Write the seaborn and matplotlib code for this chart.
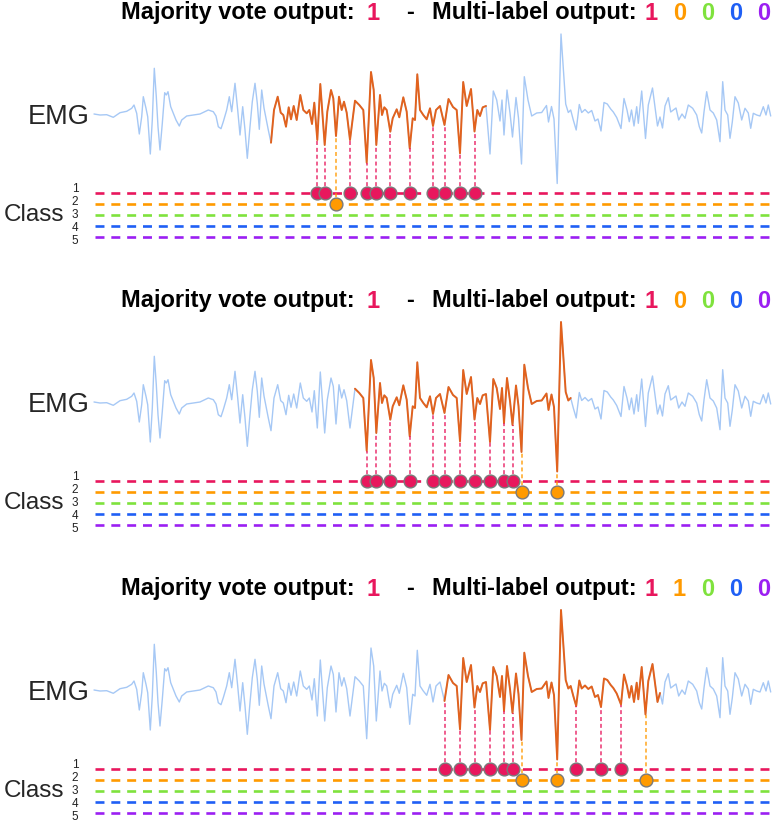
import numpy as np
import pandas as pd
import matplotlib
matplotlib.use("Agg")
import matplotlib.pyplot as plt
import seaborn as sns

# EMG trace (time in samples, amplitude in arbitrary units)
emg_t = [94, 100, 106.7, 113.3, 120, 126.7, 131.7, 134, 136.7, 139.3, 141.7, 143.3, 146, 147.7,
         150.3, 152.3, 154.3, 156.3, 158, 160, 162.3, 164.7, 166.3, 168, 170.7, 173.3, 176, 179.3,
         181.7, 186.7, 193.3, 200, 208.3, 213.3, 216, 218.3, 221, 223.3, 226.7, 229.3, 231.7, 235,
         237.7, 240, 242.7, 245, 247.3, 250, 252.3, 255, 257.3, 259.3, 261.7, 264, 268.3, 271,
         274, 277.7, 280.7, 283.3, 286, 288.7, 291, 293.7, 296.7, 300.3, 303.3, 306.7, 309.3, 312,
         314.3, 317.3, 320.3, 324.7, 327.3, 331, 333.3, 336, 339, 341.7, 344, 346.7, 350, 355,
         359.3, 363.3, 366.7, 371, 373.7, 376.3, 380, 382, 384.3, 386.7, 390.3, 392.7, 396.7, 399.3,
         403.3, 406.7, 409.7, 412.7, 415, 417.3, 420, 423.3, 426.7, 430, 433, 436, 440, 444.5,
         448.5, 453, 456.7, 460, 463.2, 466.7, 471, 474.5, 477.3, 480, 482.7, 486, 490, 493.3,
         496.7, 500, 502, 504, 507, 510, 512.5, 516, 518.5, 521.5, 524.3, 528, 531.7, 536.7,
         541.7, 546.5, 548.5, 551.5, 554, 557.2, 561, 563.3, 565.7, 568.3, 570.7, 573.3, 576.2, 579.3,
         581.7, 585, 588.3, 591.7, 595, 598, 601, 604, 607.3, 610.7, 613.3, 616.7, 621, 624,
         627, 629.3, 631.5, 634, 636.7, 638.3, 641.7, 645.5, 648.3, 652.5, 655, 657.5, 660, 662.5,
         665, 668.3, 670.7, 673.3, 676, 678.7, 682, 685, 688.3, 692.7, 696.7, 699.3, 701.7, 704,
         706.7, 710, 713.3, 716.7, 720, 722.7, 725, 727.7, 730, 732.3, 735, 738.3, 741.7, 745,
         748.3, 750.7, 753.3, 756.7, 760, 763.3, 766, 768.3, 770.7]
emg_amp = [1, 0, 0.3, -2.3, 2.3, 3.7, 6.7, 10, 1.7, -19, -1.7, 18.3, 6.7, -1.7,
           -39, -5, 46.7, 18.3, -11.7, -35, -8.3, 22.3, 20, 23.3, 8.3, 1.7, -5, -11,
           -5, -1, 0, 1, 5, 3.3, -1, -11.7, -13.7, -6.7, 5, 18.3, 3.3, 31.7,
           5, -20, 8.3, -15, -43.3, -11.7, 13.3, 31.7, 11.7, -14.3, 25, 7, -15, -27.7,
           5, 18.3, 2.3, 0, -11.7, 7.7, -4.3, 9, -5, 20, 5, 1.7, 5, -9,
           12.3, -25, 31, -30, 3.3, 25, 16.7, -21, 18.3, 5, 13.3, 2.3, -25, 14.3,
           10, 5, -47.7, 43, 25, -30, 20, 0, 7.7, 5, -16.7, -3.3, 5.7, -2.3,
           17.7, 3.3, -33.3, -3.3, -5, 40.7, 5, 0, -4.3, 6.7, -11, 5, 9, -10,
           16, 8, 5, -38.3, 33, 9, 26, -16.5, 5, -1, 7.7, 9, -39, 24,
           15, -6, 15, -20, 25, 2, -22, 17.5, -3, -49, 38.3, 15, -1, 2,
           2.5, 9.5, -7, 8.5, -4, -68.5, 81, 47, 11, 2.5, 5, -5, -15, 10.5,
           2.5, 5.5, 2, 4.5, -6, -4, -16, 12.5, 11, 6, 3, -2.5, -13.5, 16.5,
           5, -6.7, 5, -11, 8.3, -8.3, 24, -23.5, 10, 27, 8, -11, -2, -13,
           9, 17.3, 3, 5, 7, -5, 1, -3.3, 10, 6.7, 0, -11.7, -18, 3,
           23.3, 5, 2, -5, -26.7, 33.3, 5, 0, -23.3, -7, 18.3, 12, -5, 6.7,
           2, -13.3, 1.7, 0, -1, 8.3, 0, 10, -1]

class_labels = ["1", "2", "3", "4", "5"]
class_colors = ["#e8175d", "#ff9a00", "#7fe23d", "#1f5ff5", "#9b1ff2"]

majority_vote = [1, 1, 1]
multi_label = [[1, 0, 0, 0, 0], [1, 0, 0, 0, 0], [1, 1, 0, 0, 0]]

window_start = [271, 355, 443]
window_len = 218

events_class1 = [[317.3, 324.7, 350, 366.7, 376.3, 390.3, 409.7, 433, 444.5, 460, 474.5],
                 [366.7, 376.3, 390.3, 409.7, 433, 444.5, 460, 474.5, 490, 504, 512.5],
                 [444.5, 460, 474.5, 490, 504, 512.5, 576.2, 601, 621]]
events_class2 = [[336], [521.5, 557.2], [521.5, 557.2, 645.5]]

sns.set_style("white")
plt.rcParams["font.family"] = ["Liberation Sans", "DejaVu Sans"]

W, H = 774, 824
fig = plt.figure(figsize=(W / 100, H / 100), dpi=100)

sig = pd.DataFrame({"t": emg_t, "amp": emg_amp})
t_arr = sig["t"].to_numpy()
a_arr = sig["amp"].to_numpy()

title_kw = dict(fontweight="bold", fontsize=17, va="center")
# left edge (px) of each title piece
title_x = [121, 366, 406, 432, 645, 673, 701, 729, 757]

for p in range(3):
    yb = 115 + 288 * p          # pixel row of the signal baseline
    top, bot = 95, -132
    ax = fig.add_axes([0, 1 - (yb - bot) / H, 1, (top - bot) / H])
    ax.set_xlim(0, W)
    ax.set_ylim(bot, top)
    ax.axis("off")

    # whole trace, then the analysis window on top
    sns.lineplot(data=sig, x="t", y="amp", ax=ax, color="#a6c8f5", lw=1.0,
                 estimator=None, sort=False)
    lo, hi = window_start[p], window_start[p] + window_len
    win = sig[(sig["t"] >= lo) & (sig["t"] <= hi)]
    sns.lineplot(data=win, x="t", y="amp", ax=ax, color="#e2621d", lw=1.4,
                 estimator=None, sort=False)

    levels = [-78 - 11 * k for k in range(5)]
    for k, lvl in enumerate(levels):
        ax.plot([95, 772], [lvl, lvl], color=class_colors[k], lw=1.9,
                dashes=(3.4, 2.6), zorder=1)
        ax.text(75, -74 - 13 * k, class_labels[k], fontsize=8.5, color="#222222",
                ha="center", va="center")

    for k, ev in enumerate([events_class1[p], events_class2[p]]):
        idx = [int(np.abs(t_arr - e).argmin()) for e in ev]
        peaks = a_arr[idx]
        ax.vlines(ev, [levels[k]] * len(ev), peaks, colors=class_colors[k],
                  linestyles=(0, (2.2, 1.6)), lw=1.3, alpha=0.75, zorder=2)
        sns.scatterplot(x=ev, y=[levels[k]] * len(ev), ax=ax, s=85,
                        color=class_colors[k], edgecolor="#7a7a7a", linewidth=1.0,
                        zorder=5, legend=False)

    ax.text(59, -2, "EMG", fontsize=19.5, ha="center", va="center")
    ax.text(4, -100, "Class", fontsize=17.5, ha="left", va="center")

    # multi-coloured title
    pieces = [("Majority vote output:", "black"),
              (str(majority_vote[p]), class_colors[majority_vote[p] - 1]),
              ("-", "black"),
              ("Multi-label output:", "black")]
    pieces += [(str(v), class_colors[k]) for k, v in enumerate(multi_label[p])]
    y_fig = 1 - (yb - 102) / H
    for (s, c), xp in zip(pieces, title_x):
        fig.text(xp / W, y_fig, s, color=c, **title_kw)

fig.savefig("out.png", dpi=100)
